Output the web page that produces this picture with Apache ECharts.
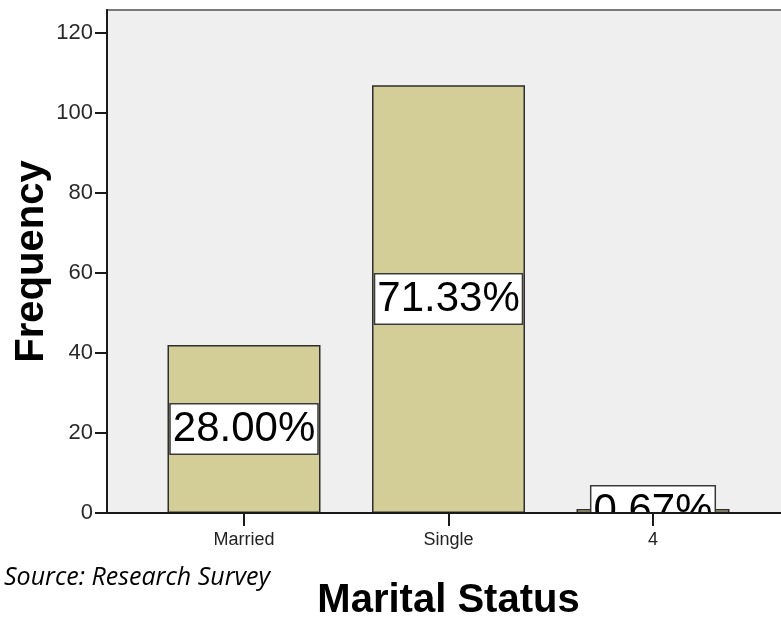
<!DOCTYPE html>
<html>
<head>
<meta charset="utf-8">
<script src="https://cdn.jsdelivr.net/npm/echarts@6/dist/echarts.min.js"></script>
<style>
  html, body { margin: 0; padding: 0; background: #ffffff; }
  #chart { width: 781px; height: 622px; }
</style>
</head>
<body>
<div id="chart"></div>
<script>
// Marital status of respondents (counts)
const categories = ['Married', 'Single', '4'];
const frequencies = [42, 107, 1];
const yAxisMax = 125.8;
const yTickStep = 20;

const total = frequencies.reduce((a, b) => a + b, 0);
const percentText = v => (v / total * 100).toFixed(2) + '%';

// plot frame and bar band layout (px)
const frame = { left: 107, top: 10, width: 682, height: 503 };
const band = { left: 141.75, top: 10, width: 613.5, height: 503 };

const sans = '"Liberation Sans", Arial, sans-serif';

const chart = echarts.init(document.getElementById('chart'), null, { renderer: 'canvas' });

chart.setOption({
  animation: false,
  backgroundColor: '#ffffff',
  grid: [
    Object.assign({
      show: true, backgroundColor: '#efefef', borderColor: '#7a7a7a', borderWidth: 2,
      containLabel: false, outerBoundsMode: 'none'
    }, frame),
    Object.assign({ show: false, containLabel: false, outerBoundsMode: 'none' }, band)
  ],
  xAxis: [
    {
      gridIndex: 0, type: 'value', min: 0, max: 1, z: 10,
      axisLine: { show: true, lineStyle: { color: '#1a1a1a', width: 2 } },
      axisTick: { show: false }, axisLabel: { show: false }, splitLine: { show: false }
    },
    {
      gridIndex: 1, type: 'category', data: categories, z: 10,
      axisLine: { show: false },
      axisTick: { show: true, alignWithLabel: true, length: 13, lineStyle: { color: '#1a1a1a', width: 2 } },
      axisLabel: { margin: 18, fontFamily: sans, fontSize: 18, color: '#222' },
      name: 'Marital Status', nameLocation: 'middle', nameGap: 68, nameMoveOverlap: false,
      nameTextStyle: { fontFamily: sans, fontSize: 40, fontWeight: 'bold', color: '#000' }
    }
  ],
  yAxis: [
    {
      gridIndex: 0, type: 'value', min: 0, max: yAxisMax, interval: yTickStep, z: 10,
      axisLine: { show: true, lineStyle: { color: '#1a1a1a', width: 2 } },
      axisTick: { show: true, length: 12, lineStyle: { color: '#1a1a1a', width: 2 } },
      axisLabel: { margin: 14, fontFamily: sans, fontSize: 22, color: '#2a2a2a', showMaxLabel: false },
      splitLine: { show: false },
      name: 'Frequency', nameLocation: 'middle', nameRotate: 90, nameGap: 55, nameMoveOverlap: false,
      nameTextStyle: { fontFamily: sans, fontSize: 40, fontWeight: 'bold', color: '#000' }
    },
    {
      gridIndex: 1, type: 'value', min: 0, max: yAxisMax, show: false
    }
  ],
  series: [{
    type: 'bar',
    xAxisIndex: 1, yAxisIndex: 1,
    data: frequencies,
    barWidth: 153,
    z: 2,
    itemStyle: { color: '#d3ce97', borderColor: '#2e2e2e', borderWidth: 1.5 },
    label: {
      show: true, position: 'inside',
      formatter: p => percentText(p.value),
      fontFamily: sans, fontSize: 42, lineHeight: 47, color: '#000',
      backgroundColor: '#ffffff', borderColor: '#3a3a3a', borderWidth: 1.5,
      padding: [1, 2, 1, 2]
    }
  }],
  graphic: [
    // white band below the plot: keeps labels inside the plot area
    {
      type: 'rect', z: 5,
      shape: { x: frame.left + 1, y: frame.top + frame.height + 1, width: 781, height: 30 },
      style: { fill: '#ffffff' }
    },
    {
      type: 'text', left: 4, top: 565, z: 20,
      style: {
        text: 'Source: Research Survey', fill: '#000',
        font: 'italic 25px "Open Sans", Lato, sans-serif'
      }
    }
  ]
});
</script>
</body>
</html>
